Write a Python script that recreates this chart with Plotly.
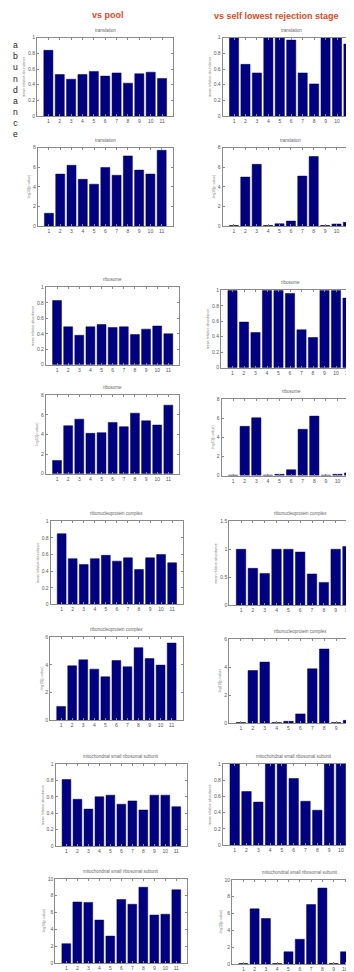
import plotly.graph_objects as go

# The page body has an 8 px default margin; the figure is sized and
# positioned so that it fills the 354x972 window exactly.
PAGE_W, PAGE_H = 354, 972
OFF = 8
W, H = PAGE_W - OFF, PAGE_H - OFF

categories = list(range(1, 12))
tick_labels = [str(c) for c in categories]
terms = ["translation", "ribosome", "ribonucleoprotein complex",
         "mitochondrial small ribosomal subunit"]
column_headers = ["vs pool", "vs self lowest rejection stage"]
side_label = "abundance"
abund_title = "mean relative abundance"
pval_title = "-log10(p-value)"

translation_abund_pool = [0.84, 0.53, 0.47, 0.53, 0.57, 0.51, 0.55, 0.42, 0.54, 0.56, 0.48]
translation_abund_self = [1.0, 0.66, 0.55, 1.0, 1.0, 0.97, 0.55, 0.41, 1.0, 1.0, 0.92]
translation_pval_pool = [1.3, 5.3, 6.2, 4.77, 4.27, 5.98, 5.18, 7.16, 5.71, 5.31, 7.73]
translation_pval_self = [0.05, 5.0, 6.3, 0.05, 0.23, 0.5, 5.1, 7.1, 0.05, 0.2, 0.37]
ribosome_abund_pool = [0.83, 0.49, 0.38, 0.49, 0.52, 0.48, 0.49, 0.39, 0.46, 0.50, 0.40]
ribosome_abund_self = [1.0, 0.59, 0.455, 1.0, 1.0, 0.96, 0.49, 0.39, 1.0, 1.0, 0.90]
ribosome_pval_pool = [1.35, 4.9, 5.57, 4.12, 4.19, 5.24, 4.8, 6.18, 5.4, 4.97, 7.0]
ribosome_pval_self = [0.05, 5.17, 6.07, 0.05, 0.14, 0.62, 4.86, 6.24, 0.05, 0.14, 0.28]
rnp_abund_pool = [0.85, 0.55, 0.48, 0.55, 0.59, 0.52, 0.56, 0.42, 0.56, 0.60, 0.50]
rnp_abund_self = [1.0, 0.66, 0.57, 1.0, 1.0, 0.95, 0.56, 0.41, 1.0, 1.05, 0.92]
rnp_pval_pool = [1.0, 3.93, 4.36, 3.69, 3.14, 4.31, 3.86, 5.24, 4.45, 3.98, 5.57]
rnp_pval_self = [0.05, 3.76, 4.36, 0.05, 0.14, 0.67, 3.88, 5.29, 0.05, 0.21, 0.29]
mito_abund_pool = [0.81, 0.57, 0.45, 0.60, 0.62, 0.51, 0.55, 0.44, 0.62, 0.62, 0.48]
mito_abund_self = [1.0, 0.66, 0.53, 1.0, 1.0, 0.82, 0.54, 0.43, 1.0, 1.0, 0.87]
mito_pval_pool = [2.3, 7.25, 7.2, 5.1, 3.2, 7.55, 6.98, 9.0, 5.7, 5.8, 8.7]
mito_pval_self = [0.05, 6.55, 5.4, 0.05, 1.45, 2.94, 7.06, 9.02, 0.05, 1.45, 1.84]

# panel data: (values, y max, y tick step, y title, term)
panel_data = [
    (translation_abund_pool, 1.0, 0.2, abund_title, terms[0]),
    (translation_abund_self, 1.0, 0.2, abund_title, terms[0]),
    (translation_pval_pool, 8, 2, pval_title, terms[0]),
    (translation_pval_self, 8, 2, pval_title, terms[0]),
    (ribosome_abund_pool, 1.0, 0.2, abund_title, terms[1]),
    (ribosome_abund_self, 1.0, 0.2, abund_title, terms[1]),
    (ribosome_pval_pool, 8, 2, pval_title, terms[1]),
    (ribosome_pval_self, 8, 2, pval_title, terms[1]),
    (rnp_abund_pool, 1.0, 0.2, abund_title, terms[2]),
    (rnp_abund_self, 1.5, 0.5, abund_title, terms[2]),
    (rnp_pval_pool, 6, 2, pval_title, terms[2]),
    (rnp_pval_self, 6, 2, pval_title, terms[2]),
    (mito_abund_pool, 1.0, 0.2, abund_title, terms[3]),
    (mito_abund_self, 1.0, 0.2, abund_title, terms[3]),
    (mito_pval_pool, 10, 2, pval_title, terms[3]),
    (mito_pval_self, 10, 2, pval_title, terms[3]),
]

# panel geometry in page pixels: (axis x, px per unit, top y, bottom y)
panel_geom = [
    (37.0, 11.37, 35, 114), (222.6, 11.44, 35, 114),
    (37.7, 11.27, 146, 225), (222.5, 11.4, 146, 225),
    (45.9, 11.13, 287, 365), (221.0, 11.5, 290, 368),
    (45.9, 11.13, 396, 475), (221.5, 11.6, 400, 477),
    (50.6, 11.05, 523, 607), (229.2, 11.83, 523, 608),
    (50.1, 11.05, 640, 724), (229.0, 11.9, 642, 727),
    (55.5, 10.98, 768, 851), (222.9, 11.8, 768, 850),
    (55.3, 11.0, 884, 969), (232.0, 11.3, 885, 970),
]


def px(x):
    return (x - OFF) / W


def py(y):
    return 1 - (y - OFF) / H


bar_color = "#000080"
frame_color = "#8a8a8a"
text_color = "#555555"
font_family = "Liberation Sans, Arial, sans-serif"

fig = go.Figure()
layout = dict(
    width=W, height=H,
    margin=dict(l=0, r=0, t=0, b=0),
    paper_bgcolor="white", plot_bgcolor="white",
    showlegend=False,
    font=dict(family=font_family, size=5, color=text_color),
    annotations=[],
)

for i, ((vals, ymax, dt, ytitle, term), (ax, ppu, top, bot)) in enumerate(zip(panel_data, panel_geom)):
    k = i + 1
    xs = "x" if k == 1 else f"x{k}"
    ys = "y" if k == 1 else f"y{k}"
    full_right = ax + 12 * ppu
    vis_right = min(full_right, PAGE_W)
    xmax = 12 * (vis_right - ax) / (full_right - ax)
    cut = full_right > PAGE_W
    fig.add_trace(go.Bar(
        x=categories, y=vals, xaxis=xs, yaxis=ys, width=0.8,
        marker=dict(color=bar_color, line=dict(color="#00004a", width=0.5)),
        hoverinfo="skip",
    ))
    xa = dict(
        domain=[px(ax), px(vis_right)], range=[0, xmax], anchor=ys,
        tickmode="array", tickvals=categories, ticktext=tick_labels,
        ticks="inside", ticklen=2, tickcolor=frame_color, tickwidth=0.8,
        showline=True, linecolor=frame_color, linewidth=1, mirror="allticks",
        showgrid=False, zeroline=False, fixedrange=True,
        tickfont=dict(size=5, color=text_color),
    )
    ya = dict(
        domain=[py(bot), py(top)], range=[0, ymax], anchor=xs,
        dtick=dt, tick0=0, ticks="inside", ticklen=2, tickcolor=frame_color,
        tickwidth=0.8, showline=True, linecolor=frame_color, linewidth=1,
        mirror=False if cut else "allticks",
        showgrid=False, zeroline=False, fixedrange=True,
        tickfont=dict(size=5, color=text_color),
        title=dict(text=ytitle, font=dict(size=3.6, color="#777777"), standoff=2),
    )
    layout["xaxis" if k == 1 else f"xaxis{k}"] = xa
    layout["yaxis" if k == 1 else f"yaxis{k}"] = ya
    layout["annotations"].append(dict(
        text=term, x=px(ax + 6 * ppu), y=py(top - 3),
        xref="paper", yref="paper", xanchor="center", yanchor="bottom",
        showarrow=False, font=dict(size=4.5, color="#666666"),
    ))

header_pos = [(108, 12), (276, 13)]
for txt, (hx, hy) in zip(column_headers, header_pos):
    layout["annotations"].append(dict(
        text=f"<b>{txt}</b>", x=px(hx), y=py(hy), xref="paper", yref="paper",
        xanchor="center", yanchor="middle", showarrow=False,
        font=dict(size=9, color="#e2491f", family=font_family),
    ))

layout["annotations"].append(dict(
    text="<br>".join(side_label), x=px(15), y=py(87.5), xref="paper", yref="paper",
    xanchor="center", yanchor="middle", align="center", showarrow=False,
    font=dict(size=8.6, color="#222222", family=font_family),
))

fig.update_layout(**layout)
fig.write_html("out.html")
